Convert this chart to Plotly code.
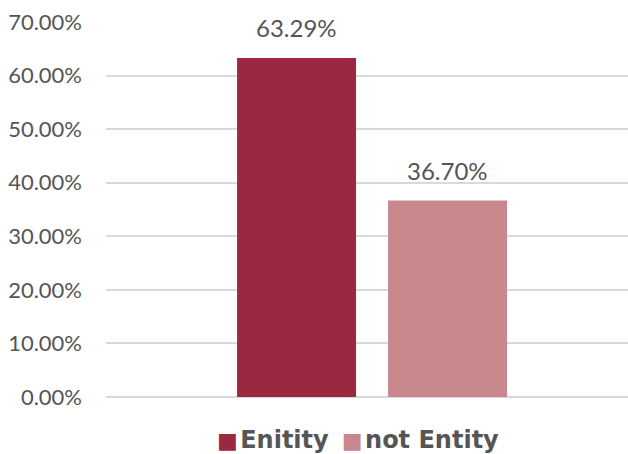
import plotly.graph_objects as go

series_names = ["Enitity", "not Entity"]
values = [63.29, 36.70]
colors = ["#9B2741", "#C8878D"]
tick_vals = [0, 10, 20, 30, 40, 50, 60, 70]
tick_text = ["0.00%", "10.00%", "20.00%", "30.00%", "40.00%", "50.00%", "60.00%", "70.00%"]

font_family = "Lato, 'Open Sans', sans-serif"
text_color = "#555555"

fig = go.Figure()
for name, v, c in zip(series_names, values, colors):
    fig.add_trace(go.Bar(
        x=[name], y=[v], name=name, marker=dict(color=c, line=dict(width=0)),
        showlegend=False,
    ))
    fig.add_annotation(
        x=name, y=v, xref="x", yref="y", text=f"{v:.2f}%", showarrow=False,
        yanchor="middle", yshift=30,
        font=dict(family=font_family, size=24, color=text_color),
    )

legend_text = "\u00a0\u2009".join(
    f"<span style='color:{c};font-size:22px'>■</span>\u200a{n}" for n, c in zip(series_names, colors)
)
fig.add_annotation(
    xref="paper", yref="paper", x=0.4837, y=-0.1146, xanchor="center", yanchor="middle",
    text=legend_text, showarrow=False,
    font=dict(family="DejaVu Sans", size=24, color=text_color, weight="bold"),
)

fig.update_layout(
    width=628, height=454,
    margin=dict(l=106, r=0, t=22, b=57, autoexpand=False),
    paper_bgcolor="white", plot_bgcolor="white",
    barmode="overlay", bargap=0.212,
    showlegend=False,
    font=dict(family=font_family, color=text_color),
)
fig.update_xaxes(range=[-1.262, 2.195], showticklabels=False, showgrid=False,
                 zeroline=False, showline=False, automargin=False)
fig.update_yaxes(range=[0, 70], tickvals=tick_vals, ticktext=tick_text,
                 tickfont=dict(family=font_family, size=22, color=text_color),
                 showgrid=True, gridcolor="#D9D9D9", gridwidth=2,
                 zeroline=True, zerolinecolor="#D9D9D9", zerolinewidth=2,
                 ticks="", ticklabelstandoff=23, automargin=False)

fig.write_html("out.html", config={"displayModeBar": False},
               post_script="document.body.style.margin='0';document.body.style.overflow='hidden';")
